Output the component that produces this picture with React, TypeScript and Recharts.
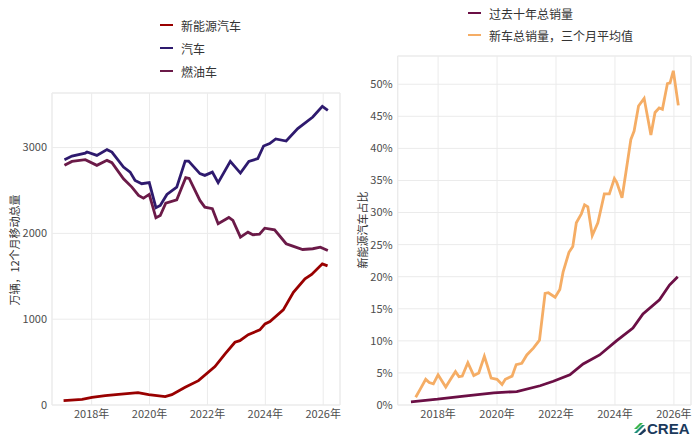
import { LineChart, Line, XAxis, YAxis, CartesianGrid, ReferenceArea } from 'recharts'

// 左图：万辆，12个月移动总量
const carYears = [2017.06, 2017.32, 2017.78, 2017.84, 2018.18, 2018.53, 2018.7, 2019.1, 2019.33, 2019.5, 2019.73, 2019.99, 2020.22, 2020.37, 2020.6, 2020.94, 2021.23, 2021.35, 2021.74, 2021.91, 2022.17, 2022.37, 2022.79, 2023.14, 2023.43, 2023.74, 2023.94, 2024.15, 2024.36, 2024.72, 2025.12, 2025.64, 2025.97, 2026.16]
const carValues = [2859, 2901, 2936, 2948, 2909, 2976, 2948, 2773, 2714, 2617, 2579, 2591, 2299, 2326, 2454, 2539, 2843, 2843, 2696, 2676, 2714, 2591, 2839, 2703, 2839, 2871, 3018, 3046, 3100, 3076, 3221, 3356, 3481, 3434]

const iceYears = [2017.06, 2017.32, 2017.78, 2018.18, 2018.53, 2018.7, 2019.1, 2019.39, 2019.62, 2019.79, 2019.99, 2020.22, 2020.37, 2020.56, 2020.94, 2021.25, 2021.37, 2021.74, 2021.91, 2022.17, 2022.37, 2022.74, 2022.88, 2023.14, 2023.4, 2023.57, 2023.8, 2023.98, 2024.32, 2024.72, 2024.95, 2025.29, 2025.64, 2025.9, 2026.16]
const iceValues = [2793, 2839, 2859, 2793, 2851, 2824, 2637, 2539, 2442, 2411, 2454, 2182, 2209, 2353, 2392, 2649, 2640, 2384, 2306, 2287, 2112, 2186, 2151, 1956, 2014, 1984, 1991, 2061, 2042, 1879, 1851, 1812, 1821, 1839, 1801]

const nevYears = [2017.03, 2017.67, 2018.01, 2018.47, 2018.93, 2019.6, 2019.97, 2020.54, 2020.77, 2021.23, 2021.69, 2022.26, 2022.61, 2022.95, 2023.12, 2023.41, 2023.81, 2023.99, 2024.16, 2024.62, 2024.97, 2025.37, 2025.6, 2025.97, 2026.15]
const nevValues = [50, 65, 89, 109, 124, 144, 120, 97, 120, 206, 284, 447, 595, 731, 750, 820, 875, 945, 972, 1109, 1314, 1470, 1521, 1645, 1622]

// 右图：新能源汽车占比 (%)
const shareMonthlyYears = [2017.24, 2017.41, 2017.58, 2017.7, 2017.84, 2018.0, 2018.11, 2018.26, 2018.45, 2018.59, 2018.71, 2018.82, 2019.01, 2019.21, 2019.38, 2019.57, 2019.66, 2019.8, 2020.0, 2020.17, 2020.28, 2020.51, 2020.65, 2020.84, 2021.01, 2021.24, 2021.44, 2021.63, 2021.74, 2021.97, 2022.13, 2022.24, 2022.44, 2022.57, 2022.69, 2022.86, 2022.97, 2023.08, 2023.23, 2023.42, 2023.64, 2023.81, 2023.98, 2024.06, 2024.24, 2024.37, 2024.54, 2024.65, 2024.8, 2024.99, 2025.22, 2025.36, 2025.5, 2025.61, 2025.78, 2025.87, 2025.98, 2026.15]
const shareMonthlyValues = [1.2, 2.6, 4.0, 3.5, 3.3, 4.7, 3.9, 2.8, 4.2, 5.2, 4.4, 4.5, 6.6, 4.6, 5.0, 7.6, 6.3, 4.2, 4.0, 3.2, 4.0, 4.5, 6.3, 6.5, 7.8, 8.9, 10.1, 17.4, 17.5, 16.8, 18.0, 20.7, 23.8, 24.7, 28.4, 29.8, 31.2, 30.9, 26.4, 28.4, 32.9, 32.9, 35.3, 34.7, 32.3, 36.2, 41.4, 42.7, 46.6, 47.8, 42.1, 45.6, 46.3, 46.1, 50.1, 50.2, 52.1, 46.7]

const shareDecadeYears = [2017.08, 2017.98, 2018.88, 2019.89, 2020.67, 2021.46, 2021.91, 2022.47, 2022.92, 2023.48, 2024.05, 2024.61, 2024.95, 2025.51, 2025.85, 2026.13]
const shareDecadeValues = [0.5, 0.9, 1.4, 1.9, 2.1, 3.0, 3.7, 4.7, 6.4, 7.8, 10.0, 12.0, 14.2, 16.4, 18.7, 20.0]

const yearTicks = [2018, 2020, 2022, 2024, 2026]
const leftTicks = [0, 1000, 2000, 3000]
const rightTicks = [0, 5, 10, 15, 20, 25, 30, 35, 40, 45, 50]

const xDomain = [2016.63, 2026.58]
const font = '"Noto Sans CJK SC", "Noto Sans", sans-serif'
const grid = '#ebebeb'
const tickStyle = { fill: '#4d4d4d', fontSize: 11, fontFamily: font }

const toPoints = (xs: number[], ys: number[]) => xs.map((x, i) => ({ x, y: ys[i] }))

const leftSeries = [
  { name: '新能源汽车', color: '#990000', data: toPoints(nevYears, nevValues) },
  { name: '汽车', color: '#2e1a6e', data: toPoints(carYears, carValues) },
  { name: '燃油车', color: '#6b1a48', data: toPoints(iceYears, iceValues) },
]

const rightSeries = [
  { name: '过去十年总销量', color: '#6b0f45', data: toPoints(shareDecadeYears, shareDecadeValues) },
  { name: '新车总销量，三个月平均值', color: '#f5ad65', data: toPoints(shareMonthlyYears, shareMonthlyValues) },
]

function LegendBox({ items, left, top, gap }: { items: { name: string; color: string }[]; left: number; top: number; gap: number }) {
  return (
    <div style={{ position: 'absolute', left, top, fontFamily: font, fontSize: 12, color: '#333' }}>
      {items.map((s, i) => (
        <div key={s.name} style={{ position: 'absolute', top: i * gap, left: 0, display: 'flex', alignItems: 'center', whiteSpace: 'nowrap', height: 16 }}>
          <span style={{ display: 'inline-block', width: 13, height: 2.5, background: s.color, marginRight: 8 }} />
          {s.name}
        </div>
      ))}
    </div>
  )
}

export default function App() {
  return (
    <div style={{ position: 'absolute', left: 0, top: 0, width: 692, height: 437, background: '#fff', overflow: 'hidden' }}>
      {/* 左图 */}
      <div style={{ position: 'absolute', left: 0, top: 0 }}>
        <LineChart width={346} height={437} margin={{ top: 93, right: 6, bottom: 12, left: 7 }}>
          <CartesianGrid stroke={grid} vertical horizontal />
          <ReferenceArea x1={xDomain[0]} x2={xDomain[1]} y1={0} y2={3636} fill="none" stroke={grid} />
          <XAxis type="number" dataKey="x" domain={xDomain} ticks={yearTicks} allowDataOverflow
                 tickFormatter={(v) => `${v}年`} axisLine={false} tickLine={false} tickSize={0} tickMargin={5}
                 height={20} tick={tickStyle} />
          <YAxis type="number" domain={[0, 3636]} ticks={leftTicks} allowDataOverflow width={45}
                 axisLine={false} tickLine={false} tickSize={0} tickMargin={5} tick={tickStyle} />
          {leftSeries.map((s) => (
            <Line key={s.name} data={s.data} dataKey="y" type="linear" stroke={s.color}
                  strokeWidth={2.8} dot={false} isAnimationActive={false} />
          ))}
        </LineChart>
      </div>
      <div style={{ position: 'absolute', left: 14, top: 250, transform: 'translate(-50%, -50%) rotate(-90deg)',
                    whiteSpace: 'nowrap', fontFamily: font, fontSize: 11, color: '#333' }}>
        万辆，12个月移动总量
      </div>
      <LegendBox items={leftSeries} left={160} top={17} gap={23} />

      {/* 右图 */}
      <div style={{ position: 'absolute', left: 346, top: 0 }}>
        <LineChart width={346} height={437} margin={{ top: 56, right: 1, bottom: 12, left: 6 }}>
          <CartesianGrid stroke={grid} vertical horizontal />
          <ReferenceArea x1={xDomain[0]} x2={xDomain[1]} y1={0} y2={54.4} fill="none" stroke={grid} />
          <XAxis type="number" dataKey="x" domain={xDomain} ticks={yearTicks} allowDataOverflow
                 tickFormatter={(v) => `${v}年`} axisLine={false} tickLine={false} tickSize={0} tickMargin={5}
                 height={20} tick={tickStyle} />
          <YAxis type="number" domain={[0, 54.4]} ticks={rightTicks} allowDataOverflow width={45.7}
                 tickFormatter={(v) => `${v}%`} axisLine={false} tickLine={false} tickSize={0} tickMargin={5}
                 tick={tickStyle} />
          {rightSeries.map((s) => (
            <Line key={s.name} data={s.data} dataKey="y" type="linear" stroke={s.color}
                  strokeWidth={2.8} dot={false} isAnimationActive={false} />
          ))}
        </LineChart>
      </div>
      <div style={{ position: 'absolute', left: 362, top: 230, transform: 'translate(-50%, -50%) rotate(-90deg)',
                    whiteSpace: 'nowrap', fontFamily: font, fontSize: 11, color: '#333' }}>
        新能源汽车占比
      </div>
      <LegendBox items={rightSeries} left={468} top={5} gap={22} />

      {/* CREA 标志 */}
      <svg style={{ position: 'absolute', left: 632, top: 420 }} width={60} height={17}>
        <polygon points="2,9 8,3 11,3 5,9" fill="#3bb54a" />
        <polygon points="2,13 10,5 13,5 5,13" fill="#1f8f7a" />
        <polygon points="6,15 13,8 14,11 9,15" fill="#1b3a5c" />
        <text x={15} y={14} fontFamily="Liberation Sans, Arial, sans-serif" fontWeight="bold" fontSize={15} fill="#1b3a5c">CREA</text>
      </svg>
    </div>
  )
}
